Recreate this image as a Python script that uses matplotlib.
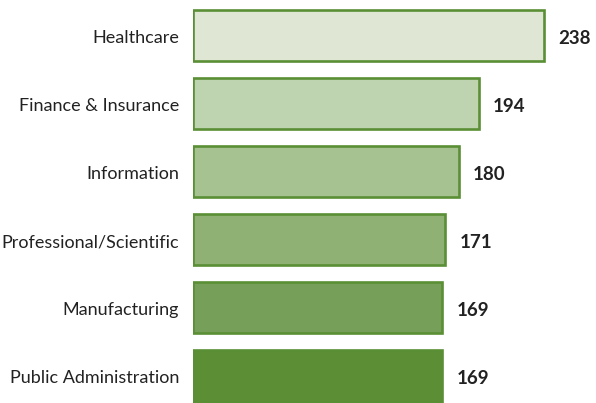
import matplotlib.pyplot as plt
import matplotlib.transforms as mtransforms

# Data
categories = ['Healthcare', 'Finance & Insurance', 'Information',
              'Professional/Scientific', 'Manufacturing', 'Public Administration']
values = [238, 194, 180, 171, 169, 169]
fills = ['#dfe7d4', '#bed3b0', '#a6c290', '#8fb173', '#76a05a', '#5b8e35']
edge = '#5a8f35'

plt.rcParams['font.family'] = ['Lato', 'DejaVu Sans']

fig = plt.figure(figsize=(5.96, 4.03), dpi=100)
ax = fig.add_axes([193 / 596, 0, 1 - 193 / 596, 1])

ypos = list(range(len(categories)))
ax.barh(ypos, values, height=0.75, color=fills, edgecolor=edge, linewidth=1.9)

# text sits a couple of pixels below bar centre in the original
val_tr = ax.transData + mtransforms.ScaledTranslation(0, -2.5 / 100, fig.dpi_scale_trans)
lab_tr = ax.get_yaxis_transform() + mtransforms.ScaledTranslation(-14 / 100, -2.5 / 100, fig.dpi_scale_trans)

for y, v, c in zip(ypos, values, categories):
    ax.text(v + 9.5, y, str(v), va='center', ha='left', fontsize=13.5,
            fontweight='bold', color='#222222', transform=val_tr)
    ax.text(0, y, c, va='center', ha='right', fontsize=13,
            color='#222222', transform=lab_tr, clip_on=False)

ax.set_yticks([])
ax.set_xticks([])
ax.set_xlim(0, 403 / 1.475)
ax.set_ylim(5.397, -0.522)
for s in ax.spines.values():
    s.set_visible(False)

fig.savefig('out.png', dpi=100)
